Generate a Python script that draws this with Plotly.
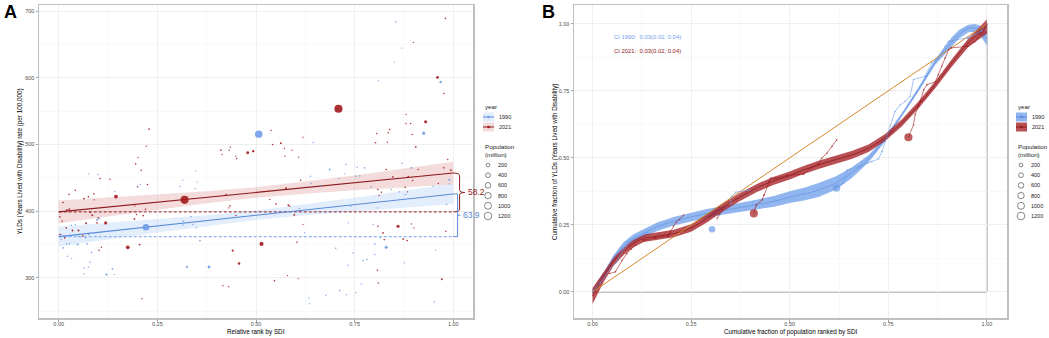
import math
import plotly.graph_objects as go

W, H = 1049, 338

# ---------------- Panel A data (relative rank by SDI vs YLD rate) ----------------
a1990_x = [0.221, 0.507, 0.968, 0.925, 0.381, 0.83, 0.325, 0.121, 0.136, 0.141, 0.097, 0.103, 0.142,
           0.006, 0.011, 0.02, 0.027, 0.048, 0.072, 0.083, 0.022, 0.033, 0.08, 0.065, 0.075, 0.064,
           0.042, 0.032, 0.051, 0.076, 0.068, 0.006, 0.201, 0.207, 0.076, 0.1, 0.347, 0.351, 0.314,
           0.308, 0.346, 0.335, 0.34, 0.316, 0.315, 0.349, 0.358, 0.308, 0.854, 0.869, 0.851, 0.81,
           0.645, 0.687, 0.728, 0.756, 0.775, 0.725, 0.753, 0.763, 0.71, 0.638, 0.663, 0.64, 0.792,
           0.894, 0.87, 0.949, 0.99, 0.843, 0.864, 0.879, 0.741, 0.808, 0.983, 0.734, 0.623, 0.797,
           0.801, 0.702, 0.781, 0.771, 0.746, 0.733, 0.767, 0.712, 0.729, 0.753, 0.677, 0.634, 0.636,
           0.952, 0.955, 0.876, 0.801, 0.815, 0.61, 0.99]
a1990_y = [376, 515.5, 593.5, 517, 316.5, 346, 316.5, 305, 313.5, 305, 387, 389, 429.5,
           365, 345, 351, 351.5, 350, 351, 338, 332.5, 329, 323.5, 315, 316, 306,
           380, 379, 362, 365, 360, 357.5, 436, 440, 456, 455, 460, 443.5, 446.5,
           437, 434, 392, 380, 385, 379.5, 375, 356, 362.5, 684, 644.5, 623.5, 595.5,
           502.5, 462.5, 470, 466, 465, 456, 452.5, 453, 449, 452.5, 438.5, 441.5, 436.5,
           465, 472, 437.5, 441, 432.5, 429, 425, 407.5, 405, 410, 382.5, 367.5, 380,
           351, 344.5, 327.5, 326, 337.5, 319, 291, 281, 275, 278, 274, 270, 261.5,
           264, 342, 322.5, 335, 360, 404, 447]
a1990_pop = [870, 1150, 60, 120, 100, 120, 40, 40, 15, 5, 30, 10, 5,
             10, 15, 8, 8, 30, 10, 10, 5, 5, 5, 5, 5, 3,
             5, 5, 8, 8, 8, 5, 3, 3, 3, 3, 3, 3, 3,
             5, 5, 10, 5, 5, 8, 5, 15, 5, 8, 3, 3, 2,
             5, 20, 5, 5, 10, 5, 10, 10, 5, 5, 10, 5, 10,
             20, 5, 5, 5, 8, 8, 10, 5, 3, 5, 5, 5, 5,
             10, 10, 10, 10, 5, 5, 5, 10, 5, 5, 5, 3, 3,
             8, 3, 3, 8, 5, 5, 30]

a2021_x = [0.319, 0.709, 0.93, 0.96, 0.514, 0.145, 0.175, 0.119, 0.479, 0.493, 0.86, 0.457, 0.441,
           0.229, 0.222, 0.201, 0.195, 0.209, 0.225, 0.2, 0.105, 0.13, 0.042, 0.026, 0.011, 0.064,
           0.075, 0.089, 0.09, 0.027, 0.021, 0.003, 0.009, 0.08, 0.085, 0.1, 0.069, 0.097, 0.035,
           0.05, 0.019, 0.015, 0.003, 0.061, 0.102, 0.108, 0.205, 0.192, 0.197, 0.214, 0.22, 0.193,
           0.211, 0.411, 0.414, 0.432, 0.435, 0.449, 0.451, 0.424, 0.434, 0.431, 0.449, 0.416, 0.431,
           0.98, 0.899, 0.976, 0.88, 0.892, 0.88, 0.835, 0.839, 0.806, 0.896, 0.803, 0.833, 0.905,
           0.538, 0.563, 0.542, 0.572, 0.591, 0.573, 0.619, 0.608, 0.613, 0.576, 0.535, 0.551,
           0.582, 0.585, 0.597, 0.619, 0.604, 0.547, 0.58, 0.607, 0.83, 0.847, 0.886, 0.897, 0.911,
           0.976, 0.994, 0.986, 0.809, 0.818, 0.878, 0.884, 0.812, 0.809, 0.822, 0.825, 0.873,
           0.883, 0.9, 0.894, 0.808, 0.81, 0.971, 0.981, 0.962]
a2021_y = [417, 553.5, 534, 600.5, 351, 422, 346, 382.5, 487.5, 490, 377.5, 321.5, 341,
           523, 497.5, 480.5, 471, 461.5, 440, 437, 449, 448, 431.5, 425, 413, 419,
           421.5, 426, 417, 403, 402, 391.5, 385, 398, 394, 390, 382, 382.5, 371,
           371, 375, 360, 365, 363, 341.5, 346, 350, 388.5, 395, 393.5, 403, 408,
           269, 491.5, 485, 491.5, 496, 482.5, 479, 425, 408, 405, 393.5, 288.5, 287,
           689, 653, 576.5, 545, 531.5, 531.5, 517.5, 522.5, 516.5, 515, 502.5, 503.5, 496.5,
           521, 502, 500, 494, 491.5, 482.5, 511, 481, 446.5, 434.5, 417.5, 411,
           409, 407.5, 394.5, 380, 353.5, 296, 303.5, 299, 462.5, 451.5, 452, 446, 462.5,
           465, 461.5, 477.5, 432.5, 428.5, 436, 429, 423.5, 377.5, 367.5, 357.5, 358.5,
           356, 375, 381, 311.5, 292.5, 298, 370, 441.5]
a2021_pop = [1400, 1410, 125, 80, 270, 220, 210, 120, 100, 50, 130, 60, 40,
             10, 5, 3, 10, 10, 10, 3, 10, 5, 10, 10, 10, 15,
             10, 10, 5, 15, 15, 10, 10, 10, 20, 10, 20, 10, 25,
             25, 10, 10, 10, 10, 10, 5, 20, 15, 10, 15, 10, 3,
             5, 10, 3, 5, 5, 3, 5, 10, 10, 5, 5, 5, 5,
             10, 5, 10, 3, 10, 5, 10, 5, 5, 5, 10, 5, 20,
             5, 20, 10, 3, 3, 3, 3, 3, 10, 20, 5, 10,
             15, 10, 20, 3, 10, 10, 5, 3, 10, 15, 15, 10, 5,
             10, 15, 5, 10, 5, 10, 5, 5, 10, 15, 10, 15,
             10, 5, 5, 10, 5, 20, 5, 5]

fit_x = [0.0, 1.0]
fit1990_y = [362.0, 425.9]
fit2021_y = [399.0, 457.2]
slope_1990 = 63.9
slope_2021 = 58.2

band_x = [0, 0.125, 0.25, 0.375, 0.5, 0.625, 0.75, 0.875, 1.0]
band1990_lo = [347, 357.5, 368, 378, 387, 394, 400, 405.5, 411]
band1990_hi = [377, 382.5, 388, 394, 401, 410, 420, 430.5, 441]
band2021_lo = [382, 392, 402.5, 412, 420, 426, 431.5, 436, 440]
band2021_hi = [416, 420.5, 424.5, 430, 436, 444.5, 453.5, 464, 474]

# ---------------- Panel B data (concentration curves) ----------------
b1990_x = [0.0, 0.02, 0.045, 0.06, 0.079, 0.085, 0.092, 0.11, 0.14, None,
           0.303, None,
           0.35, 0.352, 0.363, 0.398, None,
           0.619, 0.636, 0.645, 0.679, 0.696, 0.708, 0.725, 0.734, 0.742, 0.755, 0.767, 0.78,
           0.793, 0.805, 0.814, 0.843, 0.86, 0.877, 0.894, 0.903, 0.952, 0.987, 1.0]
b1990_y = [0.0, 0.035, 0.087, 0.11, 0.162, 0.17, 0.187, 0.2, 0.221, None,
           0.234, None,
           0.327, 0.355, 0.372, 0.38, None,
           0.388, 0.405, 0.455, 0.468, 0.48, 0.486, 0.496, 0.524, 0.561, 0.623, 0.673, 0.698,
           0.711, 0.729, 0.792, 0.804, 0.854, 0.873, 0.916, 0.935, 0.948, 0.973, 1.0]
b1990_pop = [1, 5, 10, 10, 10, 5, 10, 5, 20, None,
             870, None,
             5, 5, 5, 20, None,
             1150, 5, 10, 30, 10, 10, 10, 5, 5, 5, 5, 5,
             5, 5, 5, 20, 5, 5, 5, 5, 60, 20, 5]

b2021_x = [0.043, 0.058, 0.075, 0.087, 0.098, 0.108, None,
           0.13, 0.159, 0.191, 0.197, 0.205, 0.212, 0.22, 0.231, None,
           0.316, 0.322, 0.33, None,
           0.409, 0.415, 0.43, 0.435, 0.447, 0.452, 0.464, 0.494, 0.535, 0.552, 0.573, 0.581,
           0.594, 0.607, 0.619, None,
           0.801, 0.814, 0.818, 0.827, 0.831, 0.84, 0.848, 0.869, 0.877, 0.886, 0.894, 0.903,
           0.909, 0.951, 0.969, 0.977, 0.987, 0.996, 1.0]
b2021_y = [0.069, 0.075, 0.118, 0.143, 0.16, 0.175, None,
           0.193, 0.202, 0.209, 0.224, 0.245, 0.26, 0.27, 0.287, None,
           0.274, 0.29, 0.305, None,
           0.293, 0.324, 0.343, 0.362, 0.411, 0.424, 0.424, 0.434, 0.44, 0.461, 0.476, 0.499,
           0.517, 0.542, 0.567, None,
           0.577, 0.623, 0.661, 0.692, 0.711, 0.754, 0.773, 0.783, 0.81, 0.842, 0.873, 0.904,
           0.91, 0.916, 0.933, 0.948, 0.966, 0.991, 0.998]
b2021_pop = [10, 10, 10, 10, 5, 20, None,
             60, 60, 60, 20, 5, 5, 5, 5, None,
             5, 5, 5, None,
             1400, 10, 10, 20, 10, 20, 5, 30, 40, 10, 30, 5,
             10, 10, 10, None,
             1410, 5, 5, 10, 10, 10, 10, 10, 10, 5, 10, 5,
             10, 30, 10, 10, 10, 5, 5]

curve1990_x = [0, 0.028, 0.053, 0.079, 0.104, 0.125, 0.164, 0.206, 0.25, 0.29, 0.333, 0.375,
               0.418, 0.46, 0.5, 0.539, 0.573, 0.615, 0.657, 0.7, 0.742, 0.784, 0.827, 0.869,
               0.911, 0.93, 0.953, 0.97, 0.985, 1.0]
curve1990_y = [0, 0.062, 0.125, 0.172, 0.2, 0.215, 0.243, 0.264, 0.28, 0.293, 0.305, 0.315,
               0.327, 0.338, 0.354, 0.366, 0.38, 0.405, 0.444, 0.497, 0.57, 0.66, 0.756, 0.857,
               0.932, 0.962, 0.982, 0.984, 0.972, 0.945]
curve1990_hw = [0.008, 0.01, 0.012, 0.014, 0.015, 0.015, 0.016, 0.016, 0.016, 0.016, 0.016, 0.017,
                0.018, 0.02, 0.022, 0.024, 0.026, 0.025, 0.02, 0.013, 0.009, 0.006, 0.008, 0.01,
                0.018, 0.016, 0.014, 0.015, 0.02, 0.025]

curve2021_x = [0, 0.028, 0.053, 0.079, 0.104, 0.13, 0.164, 0.206, 0.25, 0.29, 0.333, 0.375,
               0.418, 0.46, 0.5, 0.53, 0.573, 0.615, 0.657, 0.7, 0.742, 0.784, 0.827, 0.869,
               0.911, 0.953, 1.0]
curve2021_y = [-0.015, 0.056, 0.112, 0.152, 0.181, 0.2, 0.208, 0.218, 0.239, 0.274, 0.318, 0.355,
               0.389, 0.415, 0.434, 0.452, 0.474, 0.493, 0.511, 0.536, 0.576, 0.63, 0.698, 0.773,
               0.854, 0.929, 0.99]
curve2021_hw = [0.03, 0.02, 0.015, 0.014, 0.014, 0.014, 0.014, 0.014, 0.014, 0.015, 0.015, 0.015,
                0.015, 0.015, 0.015, 0.015, 0.015, 0.015, 0.015, 0.014, 0.013, 0.013, 0.013, 0.013,
                0.014, 0.016, 0.026]

equality_x = [0.0, 1.0]
equality_y = [0.0, 1.0]

ci_1990 = "0.03(0.02, 0.04)"
ci_2021 = "0.03(0.02, 0.04)"

legend_pops = [200, 400, 600, 800, 1000, 1200]
legend_years = ["1990", "2021"]
tick_vals = [0, 0.25, 0.5, 0.75, 1.0]
tick_text = ["0.00", "0.25", "0.50", "0.75", "1.00"]
a_yticks = [300, 400, 500, 600, 700]

# ---------------- styling ----------------
BLUE_PT = "#6f9de8"
RED_PT = "#a3191c"
BLUE_LN = "#5a8ad8"
RED_LN = "#8e1a1d"
BLUE_BAND_A = "rgba(170,203,245,0.33)"
RED_BAND_A = "rgba(222,150,150,0.33)"
BLUE_BAND_B = "rgba(125,168,236,0.85)"
RED_BAND_B = "rgba(168,38,42,0.8)"
FONT = "Liberation Sans, Arial, sans-serif"


def msize(p):
    if p is None:
        return 0
    return 1 + 0.19 * math.sqrt(p)


def px_x(p):
    return p / W


def px_y(p):
    return 1 - p / H


fig = go.Figure()

# ---- Panel A ----
fig.add_trace(go.Scatter(x=band_x + band_x[::-1], y=band2021_hi + band2021_lo[::-1],
                         fill="toself", fillcolor=RED_BAND_A, line=dict(width=0),
                         mode="lines", hoverinfo="skip", xaxis="x", yaxis="y"))
fig.add_trace(go.Scatter(x=band_x + band_x[::-1], y=band1990_hi + band1990_lo[::-1],
                         fill="toself", fillcolor=BLUE_BAND_A, line=dict(width=0),
                         mode="lines", hoverinfo="skip", xaxis="x", yaxis="y"))
fig.add_trace(go.Scatter(x=fit_x, y=[fit2021_y[0]] * 2, mode="lines",
                         line=dict(color=RED_LN, width=1, dash="3px,2px"), xaxis="x", yaxis="y"))
fig.add_trace(go.Scatter(x=fit_x, y=[fit1990_y[0]] * 2, mode="lines",
                         line=dict(color="#8fb3ec", width=1.2, dash="3px,2px"), xaxis="x", yaxis="y"))
fig.add_trace(go.Scatter(x=fit_x, y=fit2021_y, mode="lines",
                         line=dict(color=RED_LN, width=1.1), xaxis="x", yaxis="y"))
fig.add_trace(go.Scatter(x=fit_x, y=fit1990_y, mode="lines",
                         line=dict(color=BLUE_LN, width=1.1), xaxis="x", yaxis="y"))
fig.add_trace(go.Scatter(x=a1990_x, y=a1990_y, mode="markers",
                         marker=dict(color=BLUE_PT, size=[msize(p) for p in a1990_pop],
                                     opacity=0.9, line=dict(width=0)), xaxis="x", yaxis="y"))
fig.add_trace(go.Scatter(x=a2021_x, y=a2021_y, mode="markers",
                         marker=dict(color=RED_PT, size=[msize(p) for p in a2021_pop],
                                     opacity=0.9, line=dict(width=0)), xaxis="x", yaxis="y"))

# ---- Panel B ----
fig.add_trace(go.Scatter(x=curve1990_x + curve1990_x[::-1],
                         y=[y + h for y, h in zip(curve1990_y, curve1990_hw)] +
                           [y - h for y, h in zip(curve1990_y, curve1990_hw)][::-1],
                         fill="toself", fillcolor=BLUE_BAND_B, line=dict(width=0),
                         mode="lines", hoverinfo="skip", xaxis="x2", yaxis="y2"))
fig.add_trace(go.Scatter(x=curve1990_x, y=curve1990_y, mode="lines",
                         line=dict(color="#6b98e2", width=0.8, shape="spline"), xaxis="x2", yaxis="y2"))
fig.add_trace(go.Scatter(x=curve2021_x + curve2021_x[::-1],
                         y=[y + h for y, h in zip(curve2021_y, curve2021_hw)] +
                           [y - h for y, h in zip(curve2021_y, curve2021_hw)][::-1],
                         fill="toself", fillcolor=RED_BAND_B, line=dict(width=0),
                         mode="lines", hoverinfo="skip", xaxis="x2", yaxis="y2"))
fig.add_trace(go.Scatter(x=curve2021_x, y=curve2021_y, mode="lines",
                         line=dict(color="#8a1c1f", width=0.8, shape="spline"), xaxis="x2", yaxis="y2"))
fig.add_trace(go.Scatter(x=equality_x, y=equality_y, mode="lines",
                         line=dict(color="#d4892a", width=1), xaxis="x2", yaxis="y2"))
fig.add_trace(go.Scatter(x=b1990_x, y=b1990_y, mode="lines+markers", connectgaps=False,
                         line=dict(color=BLUE_PT, width=0.6),
                         marker=dict(color=BLUE_PT, size=[msize(p) for p in b1990_pop], line=dict(width=0)),
                         xaxis="x2", yaxis="y2"))
fig.add_trace(go.Scatter(x=b2021_x, y=b2021_y, mode="lines+markers", connectgaps=False,
                         line=dict(color=RED_PT, width=0.6),
                         marker=dict(color=RED_PT, size=[msize(p) for p in b2021_pop], line=dict(width=0)),
                         xaxis="x2", yaxis="y2"))

shapes = []
annotations = []

# Lorenz box lines
shapes.append(dict(type="line", xref="x2", yref="y2", x0=0, y0=0, x1=1, y1=0,
                   line=dict(color="#c4c4c4", width=2), layer="below"))
shapes.append(dict(type="line", xref="x2", yref="y2", x0=1, y0=0, x1=1, y1=1,
                   line=dict(color="#c4c4c4", width=2), layer="below"))

# Brace (2021) and bracket (1990) in panel A
t21, b21 = fit2021_y[1], fit2021_y[0]
m21 = (t21 + b21) / 2
d = 4
shapes.append(dict(type="path", xref="x", yref="y",
                   path=(f"M 1.0,{t21} Q 1.016,{t21} 1.016,{t21 - d} L 1.016,{m21 + d} "
                         f"Q 1.016,{m21} 1.029,{m21} Q 1.016,{m21} 1.016,{m21 - d} "
                         f"L 1.016,{b21 + d} Q 1.016,{b21} 1.0,{b21}"),
                   line=dict(color=RED_LN, width=1)))
t90, b90 = fit1990_y[1], fit1990_y[0]
m90 = (t90 + b90) / 2
shapes.append(dict(type="path", xref="x", yref="y",
                   path=f"M 1.0,{t90} L 1.011,{t90} L 1.011,{b90} L 1.0,{b90}",
                   line=dict(color=BLUE_LN, width=1)))
shapes.append(dict(type="line", xref="x", yref="y", x0=1.011, x1=1.018, y0=m90, y1=m90,
                   line=dict(color=BLUE_LN, width=1)))
annotations.append(dict(x=1.033, y=m21, xref="x", yref="y", text=f"{slope_2021}", showarrow=False,
                        xanchor="left", yanchor="middle", font=dict(size=8.5, color=RED_LN, family=FONT)))
annotations.append(dict(x=1.02, y=m90, xref="x", yref="y", text=f"{slope_1990}", showarrow=False,
                        xanchor="left", yanchor="middle", font=dict(size=8.5, color=BLUE_LN, family=FONT)))

# CI texts in panel B
annotations.append(dict(x=0.05, y=0.95, xref="x2", yref="y2", text=f"CI 1990:  {ci_1990}", showarrow=False,
                        xanchor="left", yanchor="middle", font=dict(size=5.9, color=BLUE_PT, family=FONT)))
annotations.append(dict(x=0.05, y=0.90, xref="x2", yref="y2", text=f"CI 2021:  {ci_2021}", showarrow=False,
                        xanchor="left", yanchor="middle", font=dict(size=5.9, color=RED_LN, family=FONT)))

# Panel letters
annotations.append(dict(x=px_x(10), y=px_y(12), xref="paper", yref="paper", text="<b>A</b>", showarrow=False,
                        xanchor="center", yanchor="middle", font=dict(size=18, color="black", family=FONT)))
annotations.append(dict(x=px_x(548), y=px_y(12), xref="paper", yref="paper", text="<b>B</b>", showarrow=False,
                        xanchor="center", yanchor="middle", font=dict(size=18, color="black", family=FONT)))

# Axis titles (x titles and B's y title as annotations; A's y title as the axis title)
title_font = dict(size=6.3, color="black", family=FONT)
annotations.append(dict(x=px_x(256), y=px_y(331.5), xref="paper", yref="paper", text="Relative rank by SDI",
                        showarrow=False, xanchor="center", yanchor="middle", font=title_font))
annotations.append(dict(x=px_x(790.5), y=px_y(331.5), xref="paper", yref="paper",
                        text="Cumulative fraction of population ranked by SDI", showarrow=False,
                        xanchor="center", yanchor="middle", font=title_font))
annotations.append(dict(x=px_x(555), y=px_y(162), xref="paper", yref="paper",
                        text="Cumulative fraction of YLDs (Years Lived with Disability)",
                        showarrow=False, xanchor="center", yanchor="middle", textangle=-90, font=title_font))

# ---- Custom legends ----
leg_font = dict(size=5.5, color="#222", family=FONT)
leg_title_font = dict(size=6.2, color="#222", family=FONT)


def add_legends(x0, style):
    annotations.append(dict(x=px_x(x0), y=px_y(106), xref="paper", yref="paper", text="year",
                            showarrow=False, xanchor="left", yanchor="middle", font=leg_title_font))
    key_cols = [(BLUE_PT, BLUE_LN, BLUE_BAND_A if style == "A" else BLUE_BAND_B),
                (RED_PT, RED_LN, RED_BAND_A if style == "A" else RED_BAND_B)]
    for i, yr in enumerate(legend_years):
        cy = 117 + 10 * i
        pt, ln, bg = key_cols[i]
        shapes.append(dict(type="rect", xref="paper", yref="paper", x0=px_x(x0), x1=px_x(x0 + 11),
                           y0=px_y(cy + 4.5), y1=px_y(cy - 4.5), fillcolor=bg, line=dict(width=0)))
        shapes.append(dict(type="line", xref="paper", yref="paper", x0=px_x(x0), x1=px_x(x0 + 11),
                           y0=px_y(cy), y1=px_y(cy), line=dict(color=ln, width=1)))
        r = 1.3
        shapes.append(dict(type="circle", xref="paper", yref="paper", x0=px_x(x0 + 5.5 - r),
                           x1=px_x(x0 + 5.5 + r), y0=px_y(cy + r), y1=px_y(cy - r),
                           fillcolor=pt if style == "A" else ln, line=dict(width=0)))
        annotations.append(dict(x=px_x(x0 + 14), y=px_y(cy), xref="paper", yref="paper", text=yr,
                                showarrow=False, xanchor="left", yanchor="middle", font=leg_font))
    annotations.append(dict(x=px_x(x0), y=px_y(151), xref="paper", yref="paper", text="Population<br>(million)",
                            showarrow=False, xanchor="left", yanchor="middle", align="left",
                            font=dict(size=6.2, color="#222", family=FONT)))
    for i, p in enumerate(legend_pops):
        cy = 165 + 10.2 * i
        r = msize(p) / 2
        cx = x0 + 5
        shapes.append(dict(type="circle", xref="paper", yref="paper", x0=px_x(cx - r), x1=px_x(cx + r),
                           y0=px_y(cy + r), y1=px_y(cy - r), line=dict(color="#555", width=0.7)))
        annotations.append(dict(x=px_x(x0 + 13), y=px_y(cy), xref="paper", yref="paper", text=str(p),
                                showarrow=False, xanchor="left", yanchor="middle", font=leg_font))


add_legends(483, "A")
add_legends(1016, "B")

# ---- Axes ----
grid_major = "#ebebeb"
grid_minor = "#f5f5f5"
tick_font = dict(size=5.5, color="#4d4d4d", family=FONT)


def axis_common():
    return dict(showline=True, mirror=True, linecolor="#bfbfbf", linewidth=1.5,
                showgrid=True, gridcolor=grid_major, gridwidth=0.8, zeroline=False,
                ticks="outside", ticklen=2, tickwidth=0.6, tickcolor="#666",
                tickfont=tick_font, automargin=False)


xa = axis_common()
xa.update(domain=[39 / W, 473 / W], range=[-0.05, 1.05], tickvals=tick_vals, ticktext=tick_text,
          anchor="y", ticklabelstandoff=-2, minor=dict(tickvals=[0.125, 0.375, 0.625, 0.875], showgrid=True,
                                                       gridcolor=grid_minor, gridwidth=0.6))
ya = axis_common()
ya.update(domain=[1 - 318 / H, 1 - 5 / H], range=[240, 709], tickvals=a_yticks, anchor="x",
          title=dict(text="YLDs (Years Lived with Disability) rate (per 100,000)", font=title_font, standoff=2),
          minor=dict(tickvals=[250, 350, 450, 550, 650], showgrid=True, gridcolor=grid_minor, gridwidth=0.6))
xb = axis_common()
xb.update(domain=[574 / W, 1007 / W], range=[-0.047, 1.051], tickvals=tick_vals, ticktext=tick_text,
          anchor="y2", ticklabelstandoff=-2, minor=dict(tickvals=[0.125, 0.375, 0.625, 0.875], showgrid=True,
                                                        gridcolor=grid_minor, gridwidth=0.6))
yb = axis_common()
yb.update(domain=[1 - 318 / H, 1 - 5 / H], range=[-0.097, 1.07], tickvals=tick_vals, ticktext=tick_text,
          anchor="x2", minor=dict(tickvals=[-0.125, 0.125, 0.375, 0.625, 0.875], showgrid=True,
                                  gridcolor=grid_minor, gridwidth=0.6))

fig.update_layout(
    template="none",
    width=W, height=H,
    margin=dict(l=0, r=0, t=0, b=0),
    paper_bgcolor="white", plot_bgcolor="white",
    showlegend=False,
    hovermode=False,
    xaxis=xa, yaxis=ya, xaxis2=xb, yaxis2=yb,
    shapes=shapes, annotations=annotations,
    font=dict(family=FONT),
)

fig.write_html("out.html", config={"displayModeBar": False, "staticPlot": True},
               post_script="document.body.style.margin='0px';")
